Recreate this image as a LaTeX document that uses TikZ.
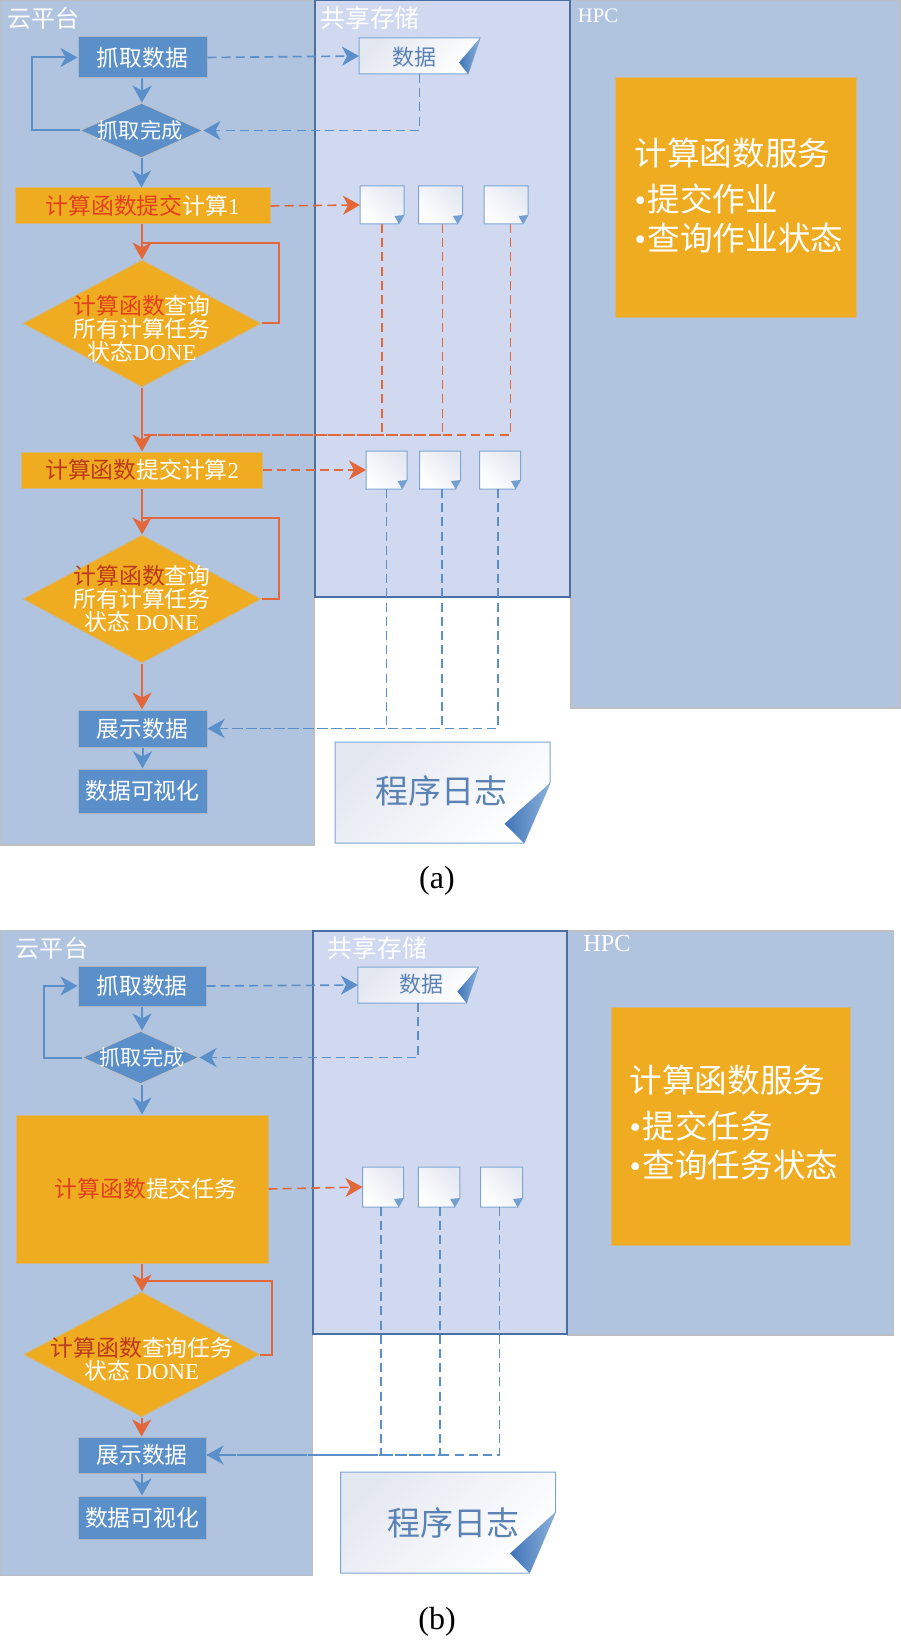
\documentclass[tikz,border=0pt]{standalone}
\usepackage{fontspec}
\setmainfont{Liberation Serif}
\newfontfamily\cjk{Noto Sans CJK SC}
\usepackage{xcolor}
\usetikzlibrary{arrows.meta, positioning, shapes.geometric}
\definecolor{cloudblue}{HTML}{B0C4E0}
\definecolor{storeblue}{HTML}{D0D9F0}
\definecolor{storeline}{HTML}{4A6FA5}
\definecolor{panelgray}{HTML}{BDBFC2}
\definecolor{flowblue}{HTML}{5B8FC9}
\definecolor{floworange}{HTML}{E2673A}
\definecolor{boxorange}{HTML}{F0AC20}
\definecolor{fnred}{HTML}{E2401C}
\definecolor{fndark}{HTML}{BC3A1A}
\definecolor{pagetext}{HTML}{5A82B4}
\definecolor{pagegrey}{HTML}{E4E8F1}
\definecolor{foldblue}{HTML}{3F74BA}
\tikzset{
  wh/.style 2 args = {minimum width = #1*0.5pt, minimum height = #2*0.5pt},
  panel/.style = {rectangle, draw = panelgray, line width = 0.7pt, fill = cloudblue, inner sep = 0pt},
  store/.style = {rectangle, draw = storeline, line width = 1pt, fill = storeblue, inner sep = 0pt},
  flowtext/.style = {text = white, align = center, inner sep = 0pt,
    font = \cjk\fontsize{11.4}{11.6}\selectfont},
  bluebox/.style = {rectangle, draw = panelgray!80!flowblue, line width = 0.5pt, fill = flowblue, flowtext},
  orangebox/.style = {rectangle, draw = panelgray!60!boxorange, line width = 0.5pt, fill = boxorange, flowtext},
  bluecheck/.style = {diamond, draw = panelgray, line width = 0.5pt, fill = flowblue, inner sep = 0pt},
  orangecheck/.style = {diamond, draw = panelgray!60!boxorange, line width = 0.5pt, fill = boxorange, inner sep = 0pt},
  title/.style = {text = white, inner sep = 0pt, font = \cjk\fontsize{12}{14}\selectfont},
  hpctitle/.style = {text = white, inner sep = 0pt, font = \rmfamily\fontsize{10.3}{12}\selectfont},
  service/.style = {text = white, align = left, inner sep = 0pt,
    font = \cjk\fontsize{16.3}{19.5}\selectfont},
  pageword/.style = {text = pagetext, inner sep = 0pt, font = \cjk\fontsize{11}{13}\selectfont},
  logword/.style = {text = pagetext, inner sep = 0pt, font = \cjk\fontsize{16.5}{19}\selectfont},
  caption/.style = {inner sep = 0pt, font = \rmfamily\fontsize{16}{18}\selectfont},
  tip/.style = {-{Stealth[length = 8.5pt, width = 9.5pt, inset = 2.5pt]}},
  blueline/.style = {draw = flowblue, line width = 1pt},
  orangeline/.style = {draw = floworange, line width = 1pt},
  bluedash/.style = {draw = flowblue, line width = 0.8pt, dash pattern = on 4.5pt off 2.6pt},
  orangedash/.style = {draw = floworange, line width = 0.8pt, dash pattern = on 4.5pt off 2.6pt},
  pageanchor/.style = {rectangle, draw = none, inner sep = 0pt, outer sep = 0pt},
  pagefill/.style = {draw = flowblue!80, line width = 0.5pt, top color = pagegrey,
    middle color = white, bottom color = white, shading angle = 45},
  smallfill/.style = {draw = flowblue!80, line width = 0.5pt, top color = pagegrey,
    middle color = white, bottom color = white, shading angle = -45},
  foldfill/.style = {draw = none, left color = foldblue, right color = flowblue!70},
  smallfold/.style = {draw = none, fill = flowblue!85},
  pics/notepage/.style args = {#1/#2}{code = {
    \node(-n) [pageanchor, wh = {#1}{#2}] {};
    \path[smallfill] ({-#1/2},{-#2/2}) -- ({#1/2},{-#2/2}) -- ({#1/2},{#2/2-9}) --
      ({#1/2-5},{#2/2}) -- ({-#1/2},{#2/2}) -- cycle;
    \path[smallfold] ({#1/2},{#2/2-9}) -- ({#1/2-9.5},{#2/2-8}) -- ({#1/2-5},{#2/2}) -- cycle;
  }},
  pics/curlpage/.style args = {#1/#2/#3/#4}{code = {
    \node(-n) [pageanchor, wh = {#1}{#2}] {};
    \path[pagefill] ({-#1/2},{-#2/2}) -- ({#1/2},{-#2/2}) -- ({#1/2},{-#2/2+#3}) --
      ({#1/2-#4},{#2/2}) -- ({-#1/2},{#2/2}) -- cycle;
    \path[foldfill] ({#1/2},{-#2/2+#3}) -- ({#1/2-1.75*#4},{#2/2-0.32*(#2-#3)}) --
      ({#1/2-#4},{#2/2}) -- cycle;
  }}
}
\newcommand{\fnred}[1]{\textcolor{fnred}{#1}}
\newcommand{\fndark}[1]{\textcolor{fndark}{#1}}
\newcommand{\dotmark}{\makebox[6.5pt][l]{\rmfamily •}}

\begin{document}
\begin{tikzpicture}[x = 0.5pt, y = -0.5pt]
  \useasboundingbox (0,0) rectangle (900,1642);

  % Panels of (a)
  \node(cloudA) [panel, wh = {314}{845}] at (157,422.5) {};
  \node(hpcA) [panel, wh = {329}{708}] at (735.5,354) {};
  \node(storeA) [store, wh = {255}{597}] at (442.5,298.5) {};
  \node(cloudtitleA) [title] at (43.5,18) {云平台};
  \node(storetitleA) [title, font = \cjk\fontsize{12.4}{14}\selectfont] at (370,18) {共享存储};
  \node(hpctitleA) [hpctitle] at (598,16) {HPC};

  % Service box of (a)
  \node(serviceA) [rectangle, fill = boxorange, draw = panelgray!60!boxorange, line width = 0.5pt, wh = {241}{240}] at (735.5,198) {};
  \node(servicetextA) [service] at (739,196) {计算函数服务\\[3.5pt]\dotmark 提交作业\\\dotmark 查询作业状态};

  % Flow of (a)
  \node(fetchA) [bluebox, wh = {129}{41}] at (142.5,57.5) {抓取数据};
  \node(doneA) [bluecheck, wh = {123}{55}] at (141.5,130.5) {};
  \node(donetextA) [flowtext, font = \cjk\fontsize{10.6}{12}\selectfont] at (140,130) {抓取完成};
  \node(submitoneA) [orangebox, wh = {255}{36}] at (142.5,206) {\fnred{计算函数提交}计算\rmfamily 1};
  \node(queryoneA) [orangecheck, wh = {238}{127}] at (142,323.5) {};
  \node(queryonetextA) [flowtext] at (142,329) {\fnred{计算函数}查询\\所有计算任务\\状态\rmfamily DONE};
  \node(submittwoA) [orangebox, wh = {240.5}{36}] at (142.2,470) {\fndark{计算函数}提交计算\rmfamily 2};
  \node(querytwoA) [orangecheck, wh = {238}{128}] at (142,599) {};
  \node(querytwotextA) [flowtext] at (142,599) {\fndark{计算函数}查询\\所有计算任务\\状态 \rmfamily DONE};
  \node(showA) [bluebox, wh = {129}{37}] at (142.5,728.5) {展示数据};
  \node(chartA) [bluebox, wh = {129}{44}] at (142.5,791) {数据可视化};

  % Pages of (a)
  \pic(dataA) at (419.5,56) {curlpage=121/36/0/12};
  \node(datawordA) [pageword] at (414,57) {数据};
  \pic(doc1) at (382,205) {notepage=44/38};
  \pic(doc2) at (440.5,205) {notepage=44/38};
  \pic(doc3) at (506,205) {notepage=44/38};
  \pic(doc4) at (386.5,470) {notepage=41/38};
  \pic(doc5) at (440,470) {notepage=41/38};
  \pic(doc6) at (500,470) {notepage=41/38};
  \pic(logA) at (442.5,792.5) {curlpage=215/101/41/26};
  \node(logwordA) [logword] at (441.5,791) {程序日志};
  \node(captionA) [caption] at (437,881) {(a)};

  % Connectors of (a)
  \coordinate(waitone) at (142,243);
  \coordinate(waittwo) at (142,518);
  \coordinate(mergeA) at (142,435);
  \draw[blueline, tip] (fetchA) -- (doneA);
  \draw[blueline, tip] (doneA.west) -- ++(-48,0) |- (fetchA.west);
  \draw[blueline, tip] (doneA) -- (doneA |- submitoneA.north);
  \draw[bluedash, tip] (fetchA.east) -- (dataA-n.west);
  \draw[bluedash, tip] (dataA-n.south) |- (doneA.east);
  \draw[orangeline, tip] (submitoneA.south -| queryoneA) -- (queryoneA.north);
  \draw[orangeline] (queryoneA.east) -- ++(17,0) |- (waitone);
  \draw[orangedash, tip] (submitoneA.east) -- (doc1-n.west);
  \foreach \i/\s in {1/0pt,2/1pt,3/2.3pt} \draw[orangedash] ([xshift=\s]doc\i-n.south) |- (mergeA);
  \draw[orangeline, tip] (queryoneA.south) -- (queryoneA.south |- submittwoA.north);
  \draw[orangeline, tip] (submittwoA.south -| querytwoA) -- (querytwoA.north);
  \draw[orangeline] (querytwoA.east) -- ++(17,0) |- (waittwo);
  \draw[orangedash, tip] (submittwoA.east) -- (doc4-n.west);
  \foreach \i/\s in {4/0pt,5/1pt,6/-1pt} \draw[bluedash] ([xshift=\s]doc\i-n.south) |- (showA.east);
  \draw[bluedash, tip] (doc4-n.south) |- (showA.east);
  \draw[orangeline, tip] (querytwoA.south) -- (querytwoA.south |- showA.north);
  \draw[blueline, tip] (showA) -- (chartA);

  % Panels of (b)
  \node(cloudB) [panel, wh = {312}{645}] at (156.5,1253) {};
  \node(hpcB) [panel, wh = {326}{404}] at (730.5,1133) {};
  \node(storeB) [store, wh = {254}{403}] at (440,1132.5) {};
  \node(cloudtitleB) [title] at (52,948) {云平台};
  \node(storetitleB) [title, font = \cjk\fontsize{12.4}{14}\selectfont] at (377.5,948) {共享存储};
  \node(hpctitleB) [hpctitle, font = \rmfamily\fontsize{12.2}{14}\selectfont] at (607,944) {HPC};

  % Service box of (b)
  \node(serviceB) [rectangle, fill = boxorange, draw = panelgray!60!boxorange, line width = 0.5pt, wh = {239}{238}] at (730.5,1126) {};
  \node(servicetextB) [service] at (734,1123) {计算函数服务\\[3.5pt]\dotmark 提交任务\\\dotmark 查询任务状态};

  % Flow of (b)
  \node(fetchB) [bluebox, wh = {128}{40}] at (142,986) {抓取数据};
  \node(doneB) [bluecheck, wh = {117}{53}] at (140.5,1057.5) {};
  \node(donetextB) [flowtext, font = \cjk\fontsize{10.6}{12}\selectfont] at (142,1057) {抓取完成};
  \node(submitB) [orangebox, wh = {252}{148}] at (142,1189) {\hspace*{4pt}\fnred{计算函数}提交任务};
  \node(queryB) [orangecheck, wh = {236}{125}] at (141.6,1354.5) {};
  \node(querytextB) [flowtext] at (142,1359.5) {\fndark{计算函数}查询任务\\状态 \rmfamily DONE};
  \node(showB) [bluebox, wh = {128}{36}] at (142,1455) {展示数据};
  \node(chartB) [bluebox, wh = {128}{43}] at (142,1517.5) {数据可视化};

  % Pages of (b)
  \pic(dataB) at (418.2,985) {curlpage=120.5/36/0/12};
  \node(datawordB) [pageword] at (421,984) {数据};
  \pic(doc7) at (383,1187) {notepage=41/40};
  \pic(doc8) at (439,1187) {notepage=41.5/40};
  \pic(doc9) at (501.5,1187) {notepage=42/40};
  \pic(logB) at (448,1522.5) {curlpage=215/101/40/26};
  \node(logwordB) [logword] at (453,1523) {程序日志};
  \node(captionB) [caption] at (437,1622) {(b)};

  % Connectors of (b)
  \coordinate(waitthree) at (142,1281);
  \draw[blueline, tip] (fetchB) -- (doneB.north -| fetchB);
  \draw[blueline, tip] (doneB.west) -- ++(-38,0) |- (fetchB.west);
  \draw[blueline, tip] (doneB.south -| fetchB) -- (submitB.north);
  \draw[bluedash, tip] (fetchB.east) -- (dataB-n.west);
  \draw[bluedash, tip] (dataB-n.south) |- (doneB.east);
  \draw[orangedash, tip] (submitB.east) -- (doc7-n.west);
  \draw[orangeline, tip] (submitB.south) -- (queryB.north -| submitB);
  \draw[orangeline] (queryB.east) -- ++(11.5,0) |- (waitthree);
  \foreach \i/\s in {7/-1pt,8/0.5pt,9/-1pt} \draw[bluedash] ([xshift=\s]doc\i-n.south) |- (showB.east);
  \draw[bluedash, tip] ([xshift=-1pt]doc7-n.south) |- (showB.east);
  \draw[orangeline, tip] (queryB.south) -- (queryB.south |- showB.north);
  \draw[blueline, tip] (showB) -- (chartB);
\end{tikzpicture}
\end{document}
